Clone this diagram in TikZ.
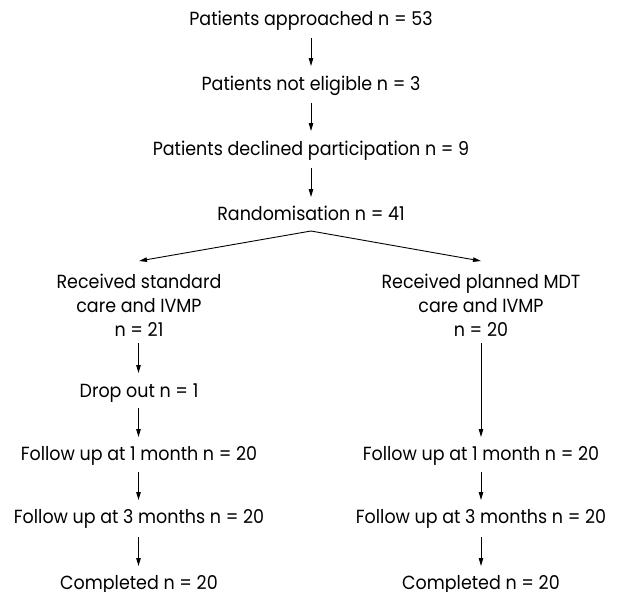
\documentclass[tikz,border=0pt]{standalone}
\usepackage{fontspec}
\setmainfont[FakeStretch=0.92]{Poppins}
\usetikzlibrary{arrows.meta}
\tikzset{
  lbl/.style={anchor=base, inner sep=0pt, font=\fontsize{19}{24}\selectfont},
  mlbl/.style={anchor=base, inner sep=0pt, align=center, font=\fontsize{19}{24}\selectfont},
  arr/.style={draw=black, line width=0.9pt, -{Triangle[length=8pt,width=4.5pt]}}
}
\begin{document}
\begin{tikzpicture}[x=1pt,y=-1pt]
\useasboundingbox (0,0) rectangle (619,592);
\node[lbl] (a) at (311,25) {Patients approached n = 53};
\node[lbl] (b) at (311,90) {Patients not eligible n = 3};
\node[lbl] (c) at (311,155) {Patients declined participation n = 9};
\node[lbl] (r) at (311,220) {Randomisation n = 41};
\node[mlbl] (L) at (139,336) {Received standard\\care and IVMP\\n = 21};
\node[mlbl] (R) at (481,336) {Received planned MDT\\care and IVMP\\n = 20};
\node[lbl] (L1) at (139,397) {Drop out n = 1};
\node[lbl] (L2) at (139,460) {Follow up at 1 month n = 20};
\node[lbl] (L3) at (139,523) {Follow up at 3 months n = 20};
\node[lbl] (L4) at (139,589) {Completed n = 20};
\node[lbl] (R2) at (481,460) {Follow up at 1 month n = 20};
\node[lbl] (R3) at (481,523) {Follow up at 3 months n = 20};
\node[lbl] (R4) at (481,589) {Completed n = 20};
% central column
\draw[arr] ([yshift=-13pt]a.base) -- ([yshift=24pt]b.base);
\draw[arr] ([yshift=-13pt]b.base) -- ([yshift=24pt]c.base);
\draw[arr] ([yshift=-13pt]c.base) -- ([yshift=23pt]r.base);
% split
\draw[arr] ([yshift=-11pt]r.base) -- ([yshift=75pt]L.base);
\draw[arr] ([yshift=-11pt]r.base) -- ([yshift=75pt]R.base);
% left column
\draw[arr] ([xshift=-0.5pt,yshift=-7pt]L.base) -- ([xshift=-0.5pt,yshift=24pt]L1.base);
\draw[arr] ([xshift=-0.5pt,yshift=-11pt]L1.base) -- ([xshift=-0.5pt,yshift=23pt]L2.base);
\draw[arr] ([xshift=-0.5pt,yshift=-12pt]L2.base) -- ([xshift=-0.5pt,yshift=23pt]L3.base);
\draw[arr] ([xshift=-0.5pt,yshift=-14pt]L3.base) -- ([xshift=-0.5pt,yshift=23pt]L4.base);
% right column
\draw[arr] ([yshift=-7pt]R.base) -- ([yshift=23pt]R2.base);
\draw[arr] ([yshift=-12pt]R2.base) -- ([yshift=23pt]R3.base);
\draw[arr] ([yshift=-14pt]R3.base) -- ([yshift=23pt]R4.base);
\end{tikzpicture}
\end{document}
